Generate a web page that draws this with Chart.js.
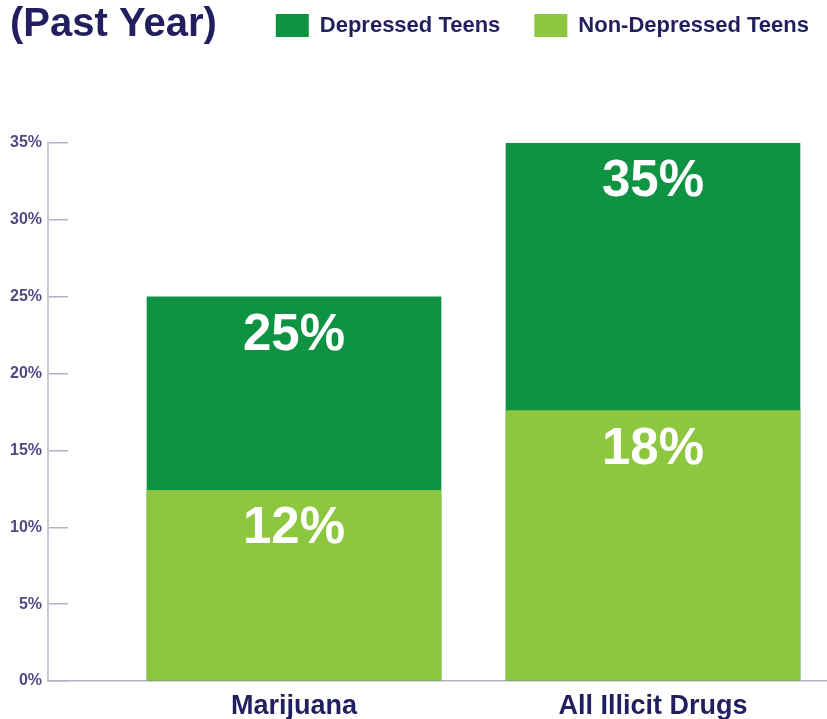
<!DOCTYPE html>
<html>
<head>
<meta charset="utf-8">
<script src="https://cdn.jsdelivr.net/npm/chart.js@4/dist/chart.umd.min.js"></script>
<style>
  html, body { margin: 0; padding: 0; background: #ffffff; }
  #wrap { position: relative; width: 827px; height: 719px; }
</style>
</head>
<body>
<div id="wrap"><canvas id="c" width="827" height="719"></canvas></div>
<script>
// ---- data ----
const titleText = '(Past Year)';
const categories = ['Marijuana', 'All Illicit Drugs'];
const seriesNames = ['Depressed Teens', 'Non-Depressed Teens'];
const depressedValues = [25, 35];
const nonDepressedValues = [12.4, 17.6];
const yTickValues = [0, 5, 10, 15, 20, 25, 30, 35];

// ---- styles ----
const NAVY = '#231f5f';
const TICK_TXT = '#4f4a86';
const DARK_GREEN = '#0e9343';
const LIGHT_GREEN = '#8dc63f';
const AXIS = '#c9c7da';
const TICKMARK = '#b3b1c7';
const FONT = "'Liberation Sans', Arial, Helvetica, sans-serif";

Chart.defaults.font.family = FONT;

const barLabels = {
  id: 'barLabels',
  afterDatasetsDraw(chart) {
    const ctx = chart.ctx;
    ctx.save();
    ctx.fillStyle = '#ffffff';
    ctx.font = 'bold 51px ' + FONT;
    ctx.textAlign = 'center';
    ctx.textBaseline = 'middle';
    chart.data.datasets.forEach((ds, i) => {
      const meta = chart.getDatasetMeta(i);
      meta.data.forEach((el, j) => {
        const v = ds.data[j].y;
        ctx.fillText(Math.round(v) + '%', el.x, el.y + 39);
      });
    });
    ctx.restore();
  }
};

new Chart(document.getElementById('c'), {
  type: 'bar',
  data: {
    datasets: [
      {
        label: seriesNames[0],
        data: depressedValues.map((v, i) => ({ x: i, y: v })),
        backgroundColor: DARK_GREEN,
        borderWidth: 0,
        barThickness: 294,
        order: 2
      },
      {
        label: seriesNames[1],
        data: nonDepressedValues.map((v, i) => ({ x: i, y: v })),
        backgroundColor: LIGHT_GREEN,
        borderWidth: 0,
        barThickness: 294,
        order: 1
      }
    ]
  },
  options: {
    responsive: false,
    animation: false,
    events: [],
    layout: { padding: { top: -20, left: 10, right: -16, bottom: 0 } },
    plugins: {
      tooltip: { enabled: false },
      legend: {
        position: 'top',
        align: 'end',
        weight: 3000,
        labels: {
          boxWidth: 33,
          boxHeight: 23,
          padding: 34,
          color: NAVY,
          font: { size: 22, weight: 'bold' },
          sort: (a, b) => a.datasetIndex - b.datasetIndex
        }
      },
      title: {
        display: true,
        text: titleText,
        align: 'start',
        color: NAVY,
        font: { size: 40, weight: 'bold' },
        padding: { top: -46, bottom: 94 }
      }
    },
    scales: {
      x: {
        type: 'linear',
        stacked: true,
        offset: false,
        min: -0.6852,
        max: 1.4847,
        afterBuildTicks: (scale) => { scale.ticks = categories.map((c, i) => ({ value: i })); },
        afterFit: (scale) => { scale.height = 38; },
        ticks: {
          padding: 9,
          color: NAVY,
          font: { size: 27, weight: 'bold' },
          autoSkip: false,
          maxRotation: 0,
          callback: (v) => categories[v]
        },
        grid: { drawOnChartArea: false, drawTicks: false, offset: false },
        border: { display: true, color: TICKMARK, width: 1.5 }
      },
      y: {
        stacked: false,
        min: 0,
        max: 35,
        afterBuildTicks: (scale) => { scale.ticks = yTickValues.map(v => ({ value: v })); },
        afterFit: (scale) => { scale.width = 38; },
        ticks: {
          padding: 26,
          color: TICK_TXT,
          font: { size: 16, weight: 'bold' },
          callback: (v) => v + '%'
        },
        grid: { drawOnChartArea: false, drawTicks: true, tickLength: -20, color: TICKMARK, lineWidth: 1.5 },
        border: { display: true, color: AXIS, width: 2 }
      }
    }
  },
  plugins: [barLabels]
});
</script>
</body>
</html>
